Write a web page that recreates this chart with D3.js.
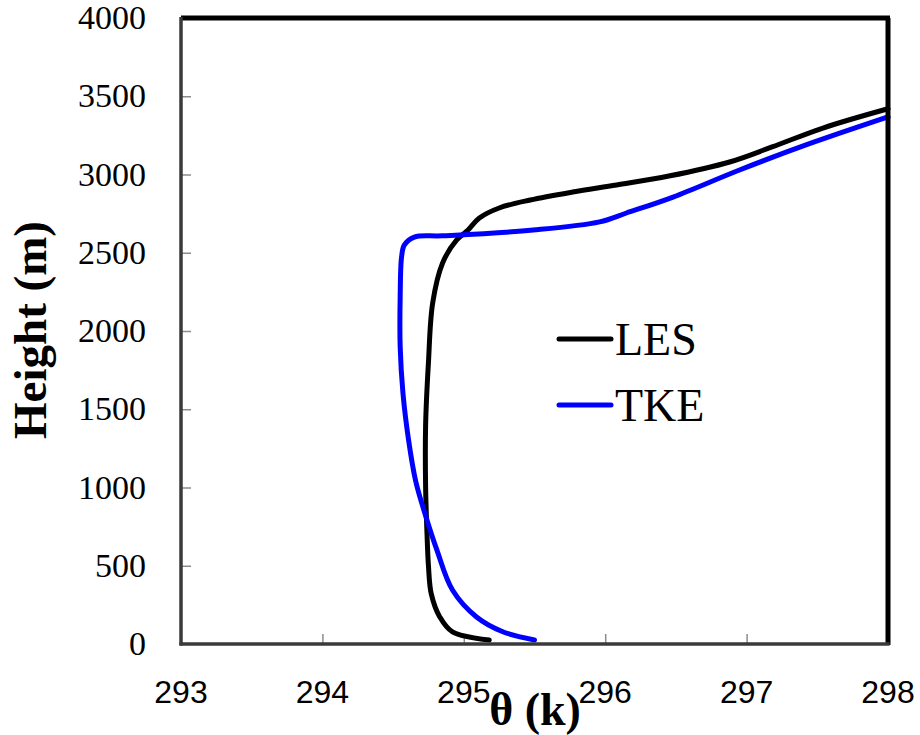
<!DOCTYPE html>
<html>
<head>
<meta charset="utf-8">
<script src="https://cdn.jsdelivr.net/npm/d3@7/dist/d3.min.js"></script>
<style>
  html, body { margin: 0; padding: 0; background: #fff; }
  svg { display: block; }
</style>
</head>
<body>
<svg id="chart" width="920" height="735"></svg>
<script>
// ---- data ----
const xTicks = [293, 294, 295, 296, 297, 298];
const yTicks = [0, 500, 1000, 1500, 2000, 2500, 3000, 3500, 4000];
const seriesNames = ["LES", "TKE"];

const lesTheta = [295.18, 294.92, 294.83, 294.77, 294.75, 294.74, 294.73, 294.73, 294.75, 294.78, 294.85, 294.95, 295.03, 295.11, 295.25, 295.47, 295.77, 296.08, 296.45, 296.88, 297.18, 297.54, 298.0];
const lesHeight = [25, 77, 173, 320, 500, 700, 1000, 1400, 1800, 2180, 2435, 2582, 2645, 2722, 2786, 2837, 2888, 2933, 2990, 3080, 3176, 3297, 3420];

const tkeTheta = [295.50, 295.28, 295.09, 294.92, 294.81, 294.73, 294.66, 294.61, 294.57, 294.55, 294.55, 294.56, 294.58, 294.65, 294.85, 295.49, 295.96, 296.15, 296.48, 296.95, 297.42, 298.0];
const tkeHeight = [26, 77, 173, 345, 600, 820, 1040, 1300, 1600, 1900, 2217, 2473, 2550, 2600, 2608, 2645, 2697, 2754, 2856, 3029, 3189, 3368];

// ---- layout ----
const svg = d3.select("#chart");
const L = 181, R = 888, T = 18, B = 644;
const x = d3.scaleLinear().domain([293, 298]).range([L, R]);
const y = d3.scaleLinear().domain([0, 4000]).range([B, T]);

// ticks (inward, gray)
const yAxis = d3.axisLeft(y).tickValues(yTicks.filter(v => v > 0 && v < 4000)).tickSize(-10).tickFormat("");
svg.append("g").attr("transform", `translate(${L},0)`).call(yAxis)
  .call(g => g.select(".domain").remove())
  .call(g => g.selectAll("line").attr("stroke", "#8c8c8c").attr("stroke-width", 1.5));
const xAxis = d3.axisBottom(x).tickValues(xTicks.filter(v => v > 293 && v < 298)).tickSize(-10).tickFormat("");
svg.append("g").attr("transform", `translate(0,${B})`).call(xAxis)
  .call(g => g.select(".domain").remove())
  .call(g => g.selectAll("line").attr("stroke", "#8c8c8c").attr("stroke-width", 1.5));

// tick labels
svg.append("g").selectAll("text").data(yTicks).join("text")
  .attr("x", 146).attr("y", d => y(d) + 11)
  .attr("text-anchor", "end")
  .attr("font-family", "'Liberation Serif', 'Times New Roman', serif")
  .attr("font-size", 34).attr("fill", "#000")
  .text(d => d);
svg.append("g").selectAll("text").data(xTicks).join("text")
  .attr("x", d => x(d)).attr("y", 703)
  .attr("text-anchor", "middle")
  .attr("font-family", "'Liberation Sans', Arial, sans-serif")
  .attr("font-size", 32).attr("fill", "#000")
  .text(d => d);

// axis titles
svg.append("text")
  .attr("x", 535).attr("y", 725)
  .attr("text-anchor", "middle")
  .attr("font-family", "'Liberation Serif', 'Times New Roman', serif")
  .attr("font-weight", "bold").attr("font-size", 46)
  .text("θ (k)");
svg.append("text")
  .attr("transform", "translate(46,330) rotate(-90)")
  .attr("text-anchor", "middle")
  .attr("font-family", "'Liberation Serif', 'Times New Roman', serif")
  .attr("font-weight", "bold").attr("font-size", 47)
  .text("Height (m)");

// lines
const colors = { LES: "#000000", TKE: "#0000ff" };
const lesData = lesTheta.map((t, i) => [t, lesHeight[i]]);
const tkeData = tkeTheta.map((t, i) => [t, tkeHeight[i]]);
const line = d3.line().x(d => x(d[0])).y(d => y(d[1])).curve(d3.curveCatmullRom.alpha(0.5));

svg.append("path").datum(lesData).attr("d", line)
  .attr("fill", "none").attr("stroke", colors.LES).attr("stroke-width", 5).attr("stroke-linejoin", "round").attr("stroke-linecap", "round");
svg.append("path").datum(tkeData).attr("d", line)
  .attr("fill", "none").attr("stroke", colors.TKE).attr("stroke-width", 5).attr("stroke-linejoin", "round").attr("stroke-linecap", "round");

// frame
svg.append("line").attr("x1", L).attr("x2", R + 2).attr("y1", T).attr("y2", T).attr("stroke", "#000").attr("stroke-width", 5);
svg.append("line").attr("x1", R).attr("x2", R).attr("y1", T).attr("y2", B + 1).attr("stroke", "#000").attr("stroke-width", 5);
svg.append("line").attr("x1", L).attr("x2", L).attr("y1", T - 1).attr("y2", B + 1.5).attr("stroke", "#3a3a3a").attr("stroke-width", 3.5);
svg.append("line").attr("x1", L - 1.5).attr("x2", R + 1.5).attr("y1", B).attr("y2", B).attr("stroke", "#3a3a3a").attr("stroke-width", 3.5);

// legend
const legY = [339, 405];
const leg = svg.append("g").selectAll("g").data(seriesNames).join("g");
leg.append("line").attr("x1", 559).attr("x2", 611)
  .attr("y1", (d, i) => legY[i]).attr("y2", (d, i) => legY[i])
  .attr("stroke", d => colors[d]).attr("stroke-width", 5).attr("stroke-linecap", "round");
leg.append("text").attr("x", 615).attr("y", (d, i) => legY[i] + 16)
  .attr("font-family", "'Liberation Serif', 'Times New Roman', serif")
  .attr("font-size", 46).attr("fill", "#000")
  .text(d => d);
</script>
</body>
</html>
